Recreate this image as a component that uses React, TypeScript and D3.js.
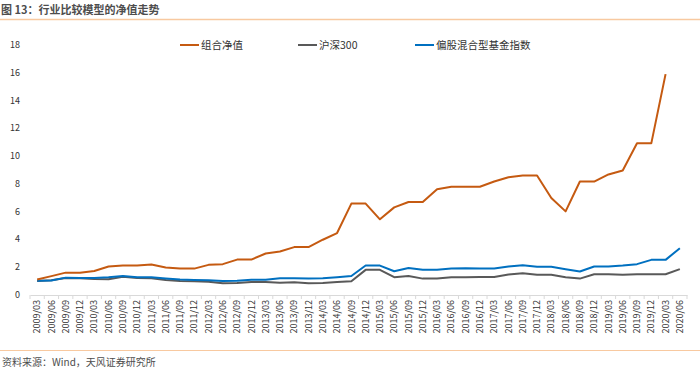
import React, { useEffect, useRef } from 'react';
import * as d3 from 'd3';

// quarterly dates 2009/03 .. 2020/06
const quarters = [
  '2009/03', '2009/06', '2009/09', '2009/12',
  '2010/03', '2010/06', '2010/09', '2010/12',
  '2011/03', '2011/06', '2011/09', '2011/12',
  '2012/03', '2012/06', '2012/09', '2012/12',
  '2013/03', '2013/06', '2013/09', '2013/12',
  '2014/03', '2014/06', '2014/09', '2014/12',
  '2015/03', '2015/06', '2015/09', '2015/12',
  '2016/03', '2016/06', '2016/09', '2016/12',
  '2017/03', '2017/06', '2017/09', '2017/12',
  '2018/03', '2018/06', '2018/09', '2018/12',
  '2019/03', '2019/06', '2019/09', '2019/12',
  '2020/03', '2020/06',
];

const portfolio = [
  1.12, 1.36, 1.61, 1.61, 1.73, 2.05, 2.12, 2.12, 2.19, 1.98, 1.9, 1.9,
  2.17, 2.22, 2.55, 2.55, 2.99, 3.13, 3.45, 3.45, 3.98, 4.46, 6.58, 6.58,
  5.45, 6.31, 6.7, 6.7, 7.62, 7.79, 7.79, 7.79, 8.17, 8.48, 8.6, 8.6,
  6.99, 6.02, 8.17, 8.17, 8.68, 8.97, 10.92, 10.92, 15.9,
];

const hs300 = [
  1.01, 1.06, 1.22, 1.2, 1.15, 1.13, 1.32, 1.22, 1.2, 1.08, 1.01, 0.99,
  0.96, 0.84, 0.87, 0.94, 0.94, 0.89, 0.91, 0.84, 0.87, 0.94, 0.99, 1.81,
  1.81, 1.28, 1.37, 1.18, 1.18, 1.28, 1.28, 1.3, 1.3, 1.47, 1.57, 1.45,
  1.45, 1.28, 1.18, 1.49, 1.49, 1.45, 1.49, 1.49, 1.49, 1.86,
];

const fundIndex = [
  1.03, 1.05, 1.25, 1.22, 1.22, 1.27, 1.37, 1.27, 1.27, 1.18, 1.11, 1.08,
  1.06, 1.01, 1.03, 1.1, 1.1, 1.2, 1.2, 1.18, 1.2, 1.28, 1.37, 2.12,
  2.12, 1.71, 1.95, 1.81, 1.81, 1.9, 1.92, 1.9, 1.9, 2.05, 2.15, 2.03,
  2.03, 1.86, 1.69, 2.05, 2.05, 2.12, 2.22, 2.53, 2.53, 3.37,
];

const yTicks = [0, 2, 4, 6, 8, 10, 12, 14, 16, 18];

const seriesList = [
  { name: '组合净值', values: portfolio, color: '#C55A11' },
  { name: '沪深300', values: hs300, color: '#595959' },
  { name: '偏股混合型基金指数', values: fundIndex, color: '#0070C0' },
];

const App = () => {
  const svgRef = useRef<SVGSVGElement>(null);

  useEffect(() => {
    const svg = d3.select(svgRef.current);
    svg.selectAll('*').remove();
    const font = '"Microsoft YaHei", "Noto Sans CJK SC", sans-serif';

    // title + rule
    svg.append('text')
      .attr('x', 1).attr('y', 14)
      .attr('font-family', font).attr('font-size', 11).attr('font-weight', 'bold')
      .attr('fill', '#4d4d4d')
      .text('图 13：行业比较模型的净值走势');
    svg.append('line')
      .attr('x1', 0).attr('x2', 700).attr('y1', 19.5).attr('y2', 19.5)
      .attr('stroke', '#f8c9a0').attr('stroke-width', 1.5);

    const x = d3.scaleBand().domain(quarters).range([30, 687]);
    const y = d3.scaleLinear().domain([0, 18]).range([295, 45]);
    const cx = (i: number) => (x(quarters[i]) as number) + x.bandwidth() / 2;

    // y labels
    svg.append('g').selectAll('text')
      .data(yTicks).enter().append('text')
      .attr('x', 20).attr('y', d => y(d) + 3)
      .attr('text-anchor', 'end')
      .attr('font-family', font).attr('font-size', 9)
      .attr('fill', '#333')
      .text(d => d);

    // x axis
    const xg = svg.append('g').attr('transform', 'translate(0,295)')
      .call(d3.axisBottom(x).tickSize(0).tickPadding(4));
    xg.select('.domain').attr('stroke', '#d9d9d9');
    xg.selectAll('.tick text')
      .attr('transform', 'rotate(-90)')
      .attr('text-anchor', 'end')
      .attr('x', -5).attr('y', 0).attr('dy', '0.35em')
      .attr('font-family', font).attr('font-size', 9)
      .attr('fill', '#333');
    // tick marks at band boundaries
    svg.append('g').selectAll('line')
      .data(d3.range(quarters.length + 1)).enter().append('line')
      .attr('x1', i => 30 + i * x.step()).attr('x2', i => 30 + i * x.step())
      .attr('y1', 295).attr('y2', 299)
      .attr('stroke', '#d9d9d9');

    // lines
    const line = d3.line<number>()
      .x((_, i) => cx(i))
      .y(d => y(d));

    [seriesList[1], seriesList[2], seriesList[0]].forEach(s => {
      svg.append('path')
        .datum(s.values)
        .attr('fill', 'none')
        .attr('stroke', s.color)
        .attr('stroke-width', 2)
        .attr('stroke-linejoin', 'round')
        .attr('d', line);
    });

    // legend
    const legendX = [180, 298, 415];
    seriesList.forEach((s, i) => {
      const g = svg.append('g').attr('transform', `translate(${legendX[i]},45)`);
      g.append('line').attr('x1', 0).attr('x2', 19).attr('y1', 0).attr('y2', 0)
        .attr('stroke', s.color).attr('stroke-width', 2);
      g.append('text').attr('x', 21).attr('y', 4)
        .attr('font-family', font).attr('font-size', 10.5)
        .attr('fill', '#333')
        .text(s.name);
    });

    // footer
    svg.append('line')
      .attr('x1', 0).attr('x2', 700).attr('y1', 350.5).attr('y2', 350.5)
      .attr('stroke', '#f8c9a0').attr('stroke-width', 1.2);
    svg.append('text')
      .attr('x', 2).attr('y', 366)
      .attr('font-family', font).attr('font-size', 10)
      .attr('fill', '#4d4d4d')
      .text('资料来源：Wind，天风证券研究所');
  }, []);

  return (
    <svg ref={svgRef} width={700} height={370}
      style={{ position: 'absolute', left: 0, top: 0, background: '#fff' }} />
  );
};

export default App;
